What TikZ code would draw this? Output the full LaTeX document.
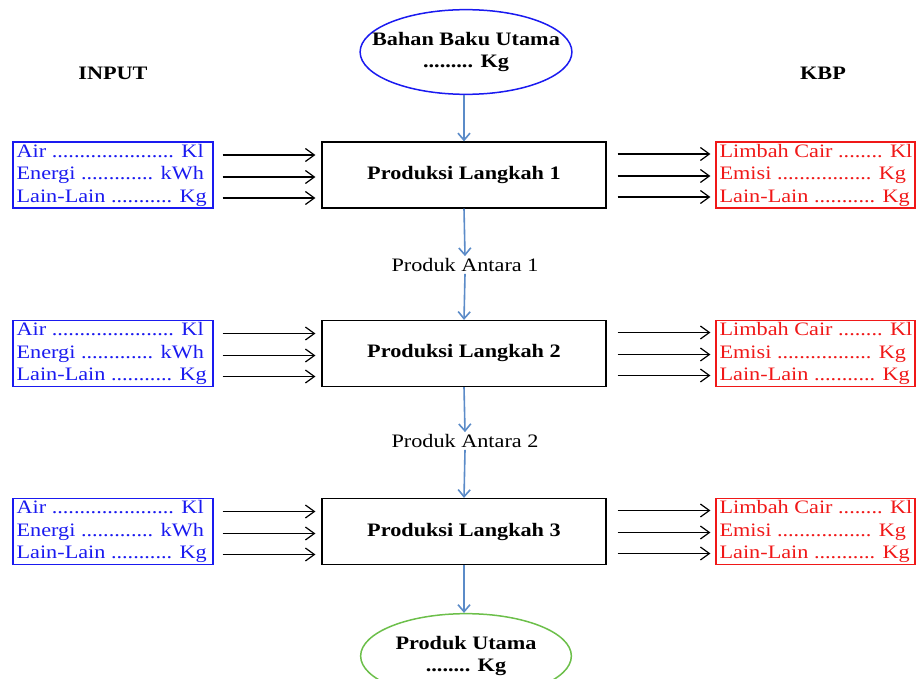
\documentclass[tikz,border=0pt]{standalone}
\usepackage{fontspec}
\setmainfont[FakeStretch=1.17]{Liberation Serif}
\usetikzlibrary{shapes.geometric,arrows.meta,calc}
\definecolor{flowblue}{HTML}{5B8BC8}
\definecolor{inblue}{HTML}{1A1AF0}
\definecolor{outred}{HTML}{F01818}
\definecolor{elgreen}{HTML}{6CBF4A}
\begin{document}
\begin{tikzpicture}[x=1pt,y=-1pt,
  basefont/.style={font=\fontsize{19}{22.5}\selectfont},
  boldfont/.style={font=\fontsize{19}{22.5}\selectfont\bfseries},
  stepbox/.style={draw=black, line width=1.2pt, minimum width=284pt, minimum height=66pt, boldfont},
  inbox/.style={draw=inblue, line width=1.2pt, minimum width=200pt, minimum height=66pt},
  outbox/.style={draw=outred, line width=1.2pt, minimum width=199pt, minimum height=66pt},
  boxtext/.style={anchor=west, align=left, inner sep=0pt, basefont},
  endell/.style={ellipse, line width=1.5pt, align=center, boldfont},
  flowarr/.style={draw=flowblue, line width=1.6pt, -{Straight Barb[length=7pt,width=12pt]}},
  arr/.style={draw=black, line width=1.2pt, -{Straight Barb[length=9pt,width=13pt]}},
  heading/.style={boldfont},
  midlabel/.style={basefont, inner sep=2pt}
]
\useasboundingbox (0,0) rectangle (917,679);

% headings
\node[heading] (hin) at (113,73) {INPUT};
\node[heading] (hout) at (823,73) {KBP};

% ellipses
\node[endell, draw=inblue, inner xsep=-19pt, inner ysep=10pt] (bahan) at (466,52) {Bahan Baku Utama\\......... Kg};
\node[endell, draw=elgreen, inner xsep=4pt, inner ysep=10pt] (utama) at (466,656) {Produk Utama\\........ Kg};

% step boxes
\node[stepbox] (s1) at (464,175) {Produksi Langkah 1};
\node[stepbox] (s2) at (464,353.5) {Produksi Langkah 2};
\node[stepbox] (s3) at (464,531.5) {Produksi Langkah 3};

% intermediate labels
\node[midlabel] (pa1) at (465,265) {Produk Antara 1};
\node[midlabel] (pa2) at (465,441) {Produk Antara 2};

% input and output boxes
\foreach \n/\y in {1/175,2/353.5,3/531.5}{
  \node[inbox] (in\n) at (113,\y) {};
  \node[boxtext, text=inblue] (int\n) at ($(in\n.west)+(4,0)$) {Air ...................... Kl\\Energi ............. kWh\\Lain-Lain ........... Kg};
  \node[outbox] (out\n) at (815.5,\y) {};
  \node[boxtext, text=outred] (outt\n) at ($(out\n.west)+(4,0)$) {Limbah Cair ........ Kl\\Emisi ................. Kg\\Lain-Lain ........... Kg};
  \foreach \dy in {-20,2,23}{
    \draw[arr] ($(in\n.east)+(9,\dy)$) -- ($(s\n.west)+(-6,\dy)$);
  }
  \foreach \dy in {-21,1,22}{
    \draw[arr] ($(s\n.east)+(11,\dy)$) -- ($(out\n.west)+(-5,\dy)$);
  }
}

% main flow
\draw[flowarr] (bahan.south -| s1.north) -- (s1.north);
\draw[flowarr] (s1.south) -- (pa1.north);
\draw[flowarr] (pa1.south) -- (s2.north);
\draw[flowarr] (s2.south) -- (pa2.north);
\draw[flowarr] (pa2.south) -- (s3.north);
\draw[flowarr] (s3.south) -- (utama.north -| s3.south);
\end{tikzpicture}
\end{document}
